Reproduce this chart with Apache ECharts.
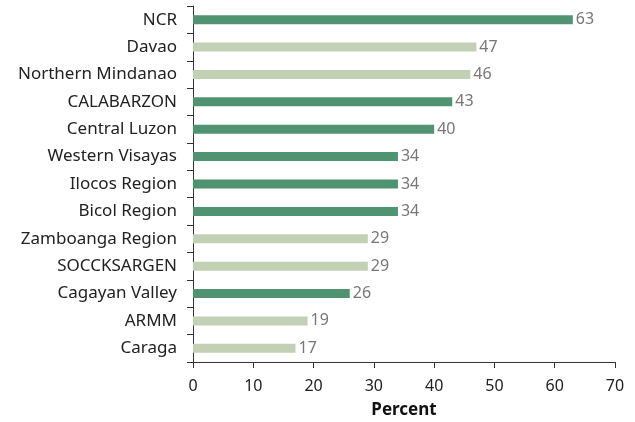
<!DOCTYPE html>
<html>
<head>
<meta charset="utf-8">
<script src="https://cdn.jsdelivr.net/npm/echarts@6/dist/echarts.min.js"></script>
<style>
  html, body { margin: 0; padding: 0; background: #fff; }
  #chart { width: 635px; height: 422px; }
</style>
</head>
<body>
<div id="chart"></div>
<script>
// Regions, top to bottom
const regions = [
  'NCR', 'Davao', 'Northern Mindanao', 'CALABARZON', 'Central Luzon',
  'Western Visayas', 'Ilocos Region', 'Bicol Region', 'Zamboanga Region',
  'SOCCKSARGEN', 'Cagayan Valley', 'ARMM', 'Caraga'
];
// Percent per region
const percents = [63, 47, 46, 43, 40, 34, 34, 34, 29, 29, 26, 19, 17];
// Regions drawn in the darker green
const emphasized = [true, false, false, true, true, true, true, true, false, false, true, false, false];
const xTicks = { min: 0, max: 70, interval: 10 };

const DARK = '#4f9371';
const LIGHT = '#c2d1b4';
const FONT = 'Noto Sans';

const chart = echarts.init(document.getElementById('chart'), null, { renderer: 'canvas' });

chart.setOption({
  animation: false,
  textStyle: { fontFamily: FONT },
  grid: {
    left: 193, right: 20, top: 6, bottom: 60,
    containLabel: false,
    outerBoundsMode: 'none'
  },
  xAxis: {
    type: 'value',
    min: xTicks.min,
    max: xTicks.max,
    interval: xTicks.interval,
    name: 'Percent',
    nameLocation: 'middle',
    nameGap: 40,
    nameTextStyle: { fontFamily: FONT, fontSize: 17, fontWeight: 'bold', color: '#111' },
    axisLine: { show: true, lineStyle: { color: '#333', width: 1 } },
    axisTick: { show: true, length: 6, lineStyle: { color: '#333' } },
    axisLabel: { fontFamily: FONT, fontSize: 16, color: '#222', margin: 16 },
    splitLine: { show: false }
  },
  yAxis: {
    type: 'category',
    data: regions,
    inverse: true,
    axisLine: { show: true, lineStyle: { color: '#333', width: 1 } },
    axisTick: { show: true, length: 6, lineStyle: { color: '#333' } },
    axisLabel: { fontFamily: FONT, fontSize: 17, color: '#222', margin: 16 }
  },
  series: [{
    type: 'bar',
    barWidth: 9,
    data: percents.map((v, i) => ({
      value: v,
      itemStyle: { color: emphasized[i] ? DARK : LIGHT }
    })),
    label: {
      show: true,
      position: 'right',
      distance: 3,
      fontFamily: FONT,
      fontSize: 16,
      color: '#777'
    }
  }]
});
</script>
</body>
</html>
